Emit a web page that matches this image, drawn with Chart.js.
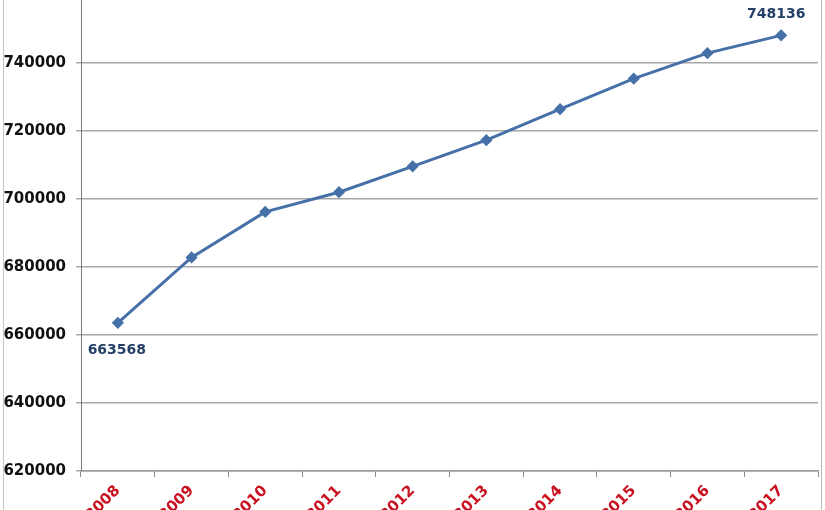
<!DOCTYPE html>
<html>
<head>
<meta charset="utf-8">
<script src="https://cdn.jsdelivr.net/npm/chart.js@4.4.0/dist/chart.umd.min.js"></script>
<style>
  html, body { margin: 0; padding: 0; background: #fff; overflow: hidden; }
  body { width: 825px; height: 510px; position: relative; }
  #wrap { position: absolute; left: 0; top: -24px; width: 825px; height: 565px; }
  #frame { position: absolute; left: 3px; top: 0; width: 817px; height: 510px;
           border-left: 1px solid #c4c4c4; border-right: 1px solid #b8b8b8; pointer-events: none; }
</style>
</head>
<body>
<div id="wrap"><canvas id="chart"></canvas></div>
<div id="frame"></div>
<script>
// values
const years = ["2008", "2009", "2010", "2011", "2012", "2013", "2014", "2015", "2016", "2017"];
const population = [663568, 682800, 696200, 702000, 709600, 717300, 726400, 735400, 742900, 748136];
const yMin = 620000;
const yMax = 760000;
const yStep = 20000;
const labelledPoints = [0, 9]; // first and last value are written on the chart

const LINE_BLUE = "#4670a8";
const LABEL_BLUE = "#243f66";
const GRID_GRAY = "#a8a8a8";
const FONT = "'DejaVu Sans', 'Liberation Sans', Arial, sans-serif";

// writes the value next to the first and last point
const pointLabels = {
  id: "pointLabels",
  afterDatasetsDraw(chart) {
    const meta = chart.getDatasetMeta(0);
    const c = chart.ctx;
    c.save();
    c.font = "bold 14px " + FONT;
    c.fillStyle = LABEL_BLUE;
    c.textAlign = "center";
    c.textBaseline = "middle";
    labelledPoints.forEach((i) => {
      const pt = meta.data[i];
      const below = i === 0;
      const dx = below ? -1 : -5;
      const dy = below ? 27 : -21;
      c.fillText(String(population[i]), pt.x + dx, pt.y + dy);
    });
    c.restore();
  }
};

new Chart(document.getElementById("chart"), {
  type: "line",
  data: {
    labels: years,
    datasets: [{
      data: population,
      borderColor: LINE_BLUE,
      backgroundColor: LINE_BLUE,
      borderWidth: 3,
      pointStyle: "rectRot",
      pointRadius: 4,
      pointBackgroundColor: LINE_BLUE,
      pointBorderColor: LINE_BLUE,
      tension: 0,
      fill: false
    }]
  },
  options: {
    responsive: true,
    maintainAspectRatio: false,
    animation: false,
    layout: { padding: { top: 12, right: 5, left: 0, bottom: 0 } },
    plugins: {
      legend: { display: false },
      tooltip: { enabled: false }
    },
    scales: {
      x: {
        offset: true,
        grid: {
          offset: true,
          drawOnChartArea: false,
          drawTicks: true,
          tickLength: 6,
          color: "#8a8a8a",
          lineWidth: 1
        },
        border: { color: "#9a9a9a", width: 1.5 },
        ticks: {
          color: "#c8101e",
          font: { family: FONT, size: 15, weight: "bold" },
          minRotation: 45,
          maxRotation: 45,
          padding: 5,
          autoSkip: false
        },
        afterFit(scale) { scale.height = 70; }
      },
      y: {
        min: yMin,
        max: yMax,
        grid: {
          color: GRID_GRAY,
          lineWidth: 1.5,
          tickLength: 5,
          drawTicks: true
        },
        border: { color: "#7a7a7a", width: 1 },
        ticks: {
          stepSize: yStep,
          color: "#111",
          padding: 10,
          font: { family: FONT, size: 15, weight: "bold" },
          callback: (v) => String(v)
        },
        afterFit(scale) { scale.width = 81; }
      }
    }
  },
  plugins: [pointLabels]
});
</script>
</body>
</html>
